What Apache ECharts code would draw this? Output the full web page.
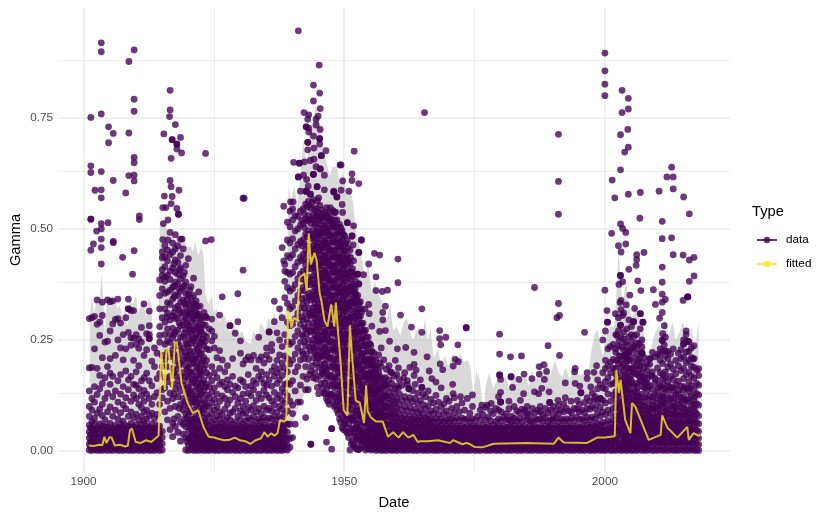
<!DOCTYPE html>
<html>
<head>
<meta charset="utf-8">
<title>Gamma</title>
<script src="https://cdn.jsdelivr.net/npm/echarts@6/dist/echarts.min.js"></script>
<style>
  html, body { margin: 0; padding: 0; background: #fff; }
  #chart { width: 830px; height: 519px; }
</style>
</head>
<body>
<div id="chart"></div>
<script>
// gamma values below are in thousandths, keyed by date
const pointsIsolated = {
  1901.4:[751,642,627,522,522,452],1903.4:[919,899,759,629,588,570,512,500,477,458,421],1909.7:[903,792,765,661,649,621,608,451],
  1908.7:[877,716,620],1904.8:[730,694],1905.7:[715,609,472,469],1902.2:[587],1908.1:[581],1910.7:[529,521],1904.7:[514],1902.5:[495],1901.9:[466],1907.5:[436],1909.4:[398],
  1916.6:[812,768,609],1916.5:[753],1917.6:[735,487],1915.4:[714],1917.0:[701,701,573],1918.6:[706,477],1917.9:[691,691,680,546],1918.8:[671],1916.8:[659,595,557],1923.4:[670,473,303],
  1918.3:[587],1915.5:[574],1915.2:[548,476],1915.8:[548],1918.2:[533,533],1916.2:[520,475],1915.3:[512],1918.9:[477],1924.5:[476],1930.8:[569],1941.2:[946,617,617],
  1945.2:[869],1944.1:[824,788,709,623,623,623],1945.3:[806,703,703,691],1945.4:[771,724,635,635],1942.3:[762],1943.2:[757,727,718],1945:[754],1943:[747,695,695,678],1944.6:[747,734],1942.7:[730,730,585,585,585],
  1944.2:[682,657],1946.5:[676],1945.6:[665,665],1940.3:[650],1941.4:[648,648],1942.4:[651],1943.5:[654,578,578],1949.2:[644],1946.2:[621,588],1942.2:[621],1942.8:[611],1944.8:[595,595],1948:[585,583,583],1941.6:[585],1948.6:[572,572],1939.7:[561],1940.2:[561],1938.4:[551,428],
  1951.9:[675],1949.4:[644,587],1951.5:[624,609,484,484],1952.8:[602,447,447,376,376],1950.9:[585],1949.7:[608,537],1949.6:[555],1951.8:[507,428],1950.6:[514,514],1953.3:[475,475],1951.7:[464],1955.8:[445],1956.8:[441,269],1960.3:[432,379],1954.7:[421,330],1956.1:[392,361],1953.7:[397],1952.6:[398,398],1957.3:[359],1958.3:[362],1952.1:[354,354,354],1957.9:[326,271,165],1954:[320],1957.4:[312,295],1954.8:[309],1964.9:[320,267,143,143],1960.8:[306],1955.3:[281],1962.9:[279],1968.3:[271,253],1973.4:[278,277],1969.5:[256],1968.5:[239],1971.8:[239],1958.7:[247],1960.2:[230],1961.8:[233],1963.4:[222,195,170],1965.9:[212],1971.3:[206],1971.9:[201],1970.9:[191,129],1968.4:[196],1959.8:[204],1960.4:[187,142],1963.8:[182],1966.3:[180],1968.9:[183],1961.4:[164],1966.8:[163],1970.8:[150],1962.4:[140,140],1972.3:[122],1965.4:[762],1930.6:[569],
  1986.5:[368,133],1979.8:[263,218,171,171],1991.1:[713,607,533,332],1991.3:[305,215],1990.8:[300],1989.1:[237],1996.1:[267,109],1981.9:[212],1984:[214],1987.4:[190,173],1988.3:[194],1994.3:[186,152],1994.2:[178],1988.8:[179],1984.5:[173],1980:[161,132,110,110,110],1982:[167,167],1983.5:[161],1986:[163],1988.4:[161],1996.6:[176,163],1997.9:[177],1998.4:[192],1992.4:[153,120],1982.3:[143],1987.9:[141],1995.2:[146],1997.3:[144],1984.4:[129],1987.3:[129],1989.3:[133],1995.4:[131,131],1983.8:[114],1989.4:[109,109],1991:[114],1993.5:[112],1994.7:[114],1998:[116],1999.1:[118,118],1976.4:[103],1977.4:[103],1978.2:[107],
  2000:[896,856,826,800,362],2003.3:[812,762],2004.5:[794,770,684,578],2004.4:[724],2003:[712,633,511,395,395,283,283],2003.8:[673],2001.4:[610],2012.8:[639,480],2011.9:[617],2013.1:[617,590,442],2010.4:[585],2006.8:[582,309,309,275],2001.9:[570],2015.1:[572,241,241],2016.2:[534,430,382],2006.7:[524],2011:[517,478,414,380,353,335,312,249,249],2003.4:[501,381,305],2004:[492,466],2001.3:[490],2002.6:[462],2003.1:[448],2007.5:[447],2015:[441,339],2006.1:[442,431,243],2006:[418],2017.1:[436,394,237],2004.6:[409],2002.7:[375],2006.3:[383],2006.9:[361],2009.3:[363],2004.8:[351],2011.6:[341],2009.7:[330],2015.9:[347,347,347],2002.9:[334],2004.1:[329],2005.7:[321],2000.4:[316],2002:[309,230],2010.5:[299,217],2000.5:[290,290],2005.5:[291,291],2007.3:[290,290],2011.4:[282,239],2000.1:[270,204],2015.6:[270],2002.3:[260],1999.6:[250],2007.1:[250,220,220,220],2015.8:[247,247],2001:[235],2005:[226],2008.7:[208],2004.3:[204,204,204,204],2016.9:[207],2018:[185]
};
const pointsEarly = {
  1901.1:[2,15,29,43,58,78,100,135,187,298],1901.6:[1,10,22,36,50,66,92,118,188,300],1902.1:[3,17,31,44,60,73,110,145,230,303],1902.6:[1,12,25,38,52,85,127,186,285,340],1903.1:[2,16,30,47,61,94,140,170,260,290],1903.6:[1,9,23,37,56,80,105,152,210,335,305],
  1904.1:[3,14,28,42,55,70,118,165,245],1904.6:[1,11,25,40,54,88,130,190,247,340],1905.1:[2,16,31,45,62,99,150,175,208,270,336],1905.6:[1,10,24,37,52,78,122,168,286,338],1906.1:[3,15,28,44,58,92,135,215,296],1906.6:[1,12,26,39,53,72,110,158,250,298,342],
  1907.1:[2,17,31,46,60,86,128,172,232,288],1907.6:[1,9,22,35,50,67,104,145,205,262],1908.1:[3,14,29,43,57,95,120,180,230,300],1908.6:[1,11,24,38,55,78,138,160,267,342,320,320],1909.1:[2,16,30,45,62,88,112,168,238,255,316],1909.6:[1,10,23,40,54,75,126,150,204,316,254],
  1910.1:[3,15,27,41,59,83,118,148,178,240,262],1910.6:[1,12,26,37,52,70,105,140,192,231,252],1911.1:[2,17,31,44,60,78,98,125,158,245,278],1911.6:[1,9,22,36,51,66,88,112,136,165,331,215],1912.1:[3,14,28,42,57,72,92,128,175,228,264],1912.6:[1,11,25,38,53,80,118,158,315,282,262,253,253],
  1913.1:[2,16,30,45,61,85,105,147,202],1913.6:[1,10,23,37,52,73,122,190,232],1914.1:[3,15,29,42,58,82,131,163,220],1914.6:[1,11,24,40,56,105,174,245,260,280,385,350,320],1915.1:[2,16,30,44,120,138,190,215,300,365,408,448,435,395],
  1915.6:[88,142,165,205,240,262,290,320,355,382,415,437,462,392],1916.1:[70,112,156,190,222,248,275,302,334,358,395,428,452,310],1916.6:[48,96,130,168,212,244,262,295,330,362,386,405,442,492],1917.1:[32,62,118,150,186,228,255,276,304,342,368,412,448,468],1917.6:[55,100,140,170,202,236,268,298,322,352,380,402,430,455],
  1918.1:[42,78,122,158,184,214,245,272,300,326,350,376,398,425,462],1918.6:[22,65,105,135,168,198,226,256,282,310,335,360,388,412,440],1919.1:[38,60,92,118,148,176,204,232,258,284,312,340,368,394,455],1919.6:[2,30,55,84,112,140,168,192,220,246,274,300,326,355,380,418],
  1920.1:[1,14,28,44,62,80,100,122,144,166,188,210,234,258,282,306,330,352,433],1920.6:[3,18,34,50,68,88,108,130,152,174,196,218,242,266,290,318,345,370],1921.1:[1,12,26,40,56,72,92,112,134,156,178,200,224,248,272,298,320,350,389],1921.6:[2,16,32,48,66,84,104,124,146,168,190,214,238,262,288,312,338],
  1922.1:[1,14,28,44,60,78,96,118,140,162,186,208,232,256,282,308,358],1922.6:[3,18,34,50,66,86,106,128,150,172,196,220,244,270,296],1923.1:[1,12,26,40,56,74,94,114,136,160,184,210,236,262,312],1923.6:[2,16,30,46,62,82,102,126,150,176,204,230,258,300],
  1924.1:[1,14,28,42,58,76,98,120,144,170,228,275],1924.6:[3,17,32,48,64,84,108,132,158,190,248,297,270],1925.1:[1,12,26,40,54,70,92,116,142,176,232,258],1925.6:[2,15,30,44,60,78,100,128,165,210],1926.1:[1,13,27,41,56,72,88,112,150,186,226,306],1926.6:[3,17,32,46,62,82,124,155,205,347],
  1927.1:[1,12,25,39,53,68,94,118,145,178],1927.6:[2,15,29,43,58,75,105,138,160,192],1928.1:[1,13,26,40,55,70,85,115,150,282,282],1928.6:[3,17,31,45,60,88,132,168,208],1929.1:[1,12,25,38,52,66,96,122,146,265],1929.6:[2,15,29,43,57,78,108,142,291,354],
  1930.1:[1,13,27,41,55,70,90,118,160,220,248],1930.6:[3,17,31,44,60,84,100,128,156,196,407],1931.1:[1,12,25,39,53,68,86,112,145,205],1931.6:[2,15,29,42,56,74,98,130,172,212],1932.1:[1,13,26,40,54,70,92,124,146,205],1932.6:[3,17,30,44,58,78,102,138,158,215],
  1933.1:[1,12,25,38,52,66,88,114,152,186],1933.6:[2,15,28,42,56,72,95,128,168,205,256],1934.1:[1,13,26,40,54,68,84,118,162,212,178],1934.6:[3,17,31,44,58,76,100,136,152,198],1935.1:[1,12,25,39,53,70,92,126,148,172,216,232],1935.6:[2,15,29,43,57,74,96,120,160,206,268,268],
  1936.1:[1,13,27,41,55,72,90,112,146,180,226,240],1936.6:[3,17,31,45,60,78,104,132,168,190,291,337],1937.1:[1,12,26,40,54,70,88,118,152,176,204,266],1937.6:[2,15,30,44,58,76,100,126,160,185,216,250,320],1938.1:[1,13,27,41,56,73,94,114,140,170,198,235,300,458],
  1938.6:[3,16,30,45,62,84,108,132,150,186,214,262,345,382,405,420],1939.1:[2,14,28,42,60,90,124,152,178,208,246,290,332,368,402,440,475,515],
};
const pointsWar = {
  1939.6:[8,28,60,112,150,196,240,282,320,360,398,435,468,505,540],1940.1:[30,84,103,158,205,245,285,325,365,402,442,478,520,545],1940.6:[60,135,178,218,258,298,338,375,415,455,495,530],
  1941.1:[110,190,232,270,310,350,388,425,465,500,528],1941.6:[110,148,205,245,285,322,360,398,436,472,508,540],1942.1:[168,218,258,295,332,368,405,442,476,512,545],1942.6:[75,138,190,236,274,310,345,382,418,452,488,522,556],
  1943.1:[138,206,250,288,322,356,392,428,462,496,530,562,596],1943.6:[15,15,180,226,268,304,340,374,410,444,478,512,546],1944.1:[165,210,250,288,322,358,394,428,462,498,532,566],1944.6:[162,198,236,272,308,342,376,410,444,478,512,546,640],
  1945.1:[129,188,226,262,298,332,366,400,434,468,502,536,570],1945.6:[152,194,232,268,304,338,372,406,440,474,508,542],1946.1:[130,176,216,252,288,322,356,390,424,458,492,526],1946.6:[20,118,162,204,240,276,310,344,378,412,446,480,514,548],
  1947.1:[105,148,190,228,264,298,332,366,400,434,468,502,536],1947.6:[4,50,50,128,170,210,248,284,318,352,386,420,454,488,522],1948.1:[100,142,184,224,262,298,332,366,400,434,468,502,536],1948.6:[92,128,168,208,246,282,318,352,386,420,454,488,520],
  1949.1:[72,116,156,196,234,270,306,340,374,408,442,476,510],1949.6:[52,98,138,180,220,256,292,326,360,394,428,462,496],1950.1:[60,60,84,126,168,206,244,280,314,348,382,416,450,484],1950.6:[40,76,116,156,196,234,270,304,338,372,406,440,474],
  1951.1:[2,50,94,134,174,212,248,284,318,352,386,420,452],1951.6:[22,50,84,122,162,200,238,274,308,342,376,410],1952.1:[8,33,70,110,150,188,226,262,298,332,366,398],1952.6:[3,33,62,100,138,176,214,250,286,320,350],
  1953.1:[7,28,60,92,128,164,200,236,270,304,336],1953.6:[23,23,48,82,116,150,186,220,254,288],1954.1:[2,20,42,72,106,140,174,208,240,272],1954.6:[5,30,60,94,128,160,192,224,256],
  1955.1:[2,16,36,60,88,118,148,178,208,238],1955.6:[4,20,40,66,94,122,150,178,206],1956.1:[1,14,30,48,70,96,122,150,176,204],1956.6:[3,18,36,54,76,100,126,152,178,216],
  1957.1:[1,13,28,44,62,82,104,128,158,190,232],1957.6:[2,16,32,48,68,90,112,138,162,205],1958.1:[1,12,27,42,60,80,100,124,148,184],1958.6:[3,17,33,50,68,86,108,132,160,192],1959.1:[1,13,28,44,62,80,100,122,152,176],1959.6:[2,16,32,48,66,84,106,130,168],
  1960.1:[1,12,27,42,58,76,96,118,146,172],1960.6:[3,17,32,48,64,82,104,128,160],1961.1:[1,13,27,42,58,74,92,114,148],1961.6:[2,16,31,46,62,80,100,122,176],1962.1:[1,12,26,41,56,72,90,112,150,158],1962.6:[3,17,32,47,62,78,98,120,188],
  1963.1:[1,13,27,42,56,72,88,110,136],1963.6:[2,16,31,46,60,76,94,118,150],1964.1:[1,12,26,40,55,70,86,106,130],1964.6:[3,17,31,45,60,76,92,114,160],1965.1:[1,13,27,41,56,70,84,104,128],1965.6:[2,16,30,44,58,74,96,122],
  1966.1:[1,12,26,40,54,68,82,102,135],1966.6:[3,17,31,44,58,72,90,116],1967.1:[1,13,26,40,54,68,84,108],1967.6:[2,16,30,43,57,72,94,125,155],1968.1:[1,12,25,39,53,66,82,110],1968.6:[3,17,30,44,58,72,98,142],
  1969.1:[1,13,26,39,52,66,84,106],1969.6:[2,15,29,42,56,70,90,118],1970.1:[1,12,25,38,52,66,80,112],1970.6:[3,16,30,43,57,72,96],1971.1:[1,13,26,39,53,68,86,120],1971.6:[2,15,29,42,56,74,100],
  1972.1:[1,12,25,38,52,68,88],1972.6:[3,16,29,43,57,74,108],1973.1:[1,13,26,39,53,70,92],1973.6:[2,15,28,42,56,72,118],1974.1:[1,12,25,38,51,66,85],1974.6:[3,16,29,42,56,72,100,126],
};
const pointsWarFill = {
  1917.35:[72,128,176,218,262,311,347,371,421],1918.35:[96,148,193,237,288,318,365,408],1919.35:[72,104,158,214,265,296,332,372,402],1920.35:[21,58,91,136,178,224,272,311,362],1921.35:[37,73,118,163,207,254,305,331],1922.35:[8,49,88,127,175,219,268,299,326],1923.35:[22,67,108,144,193,247,283],
  1941.85:[224,262,301,343,387,428,462,519],1942.35:[208,246,279,322,361,394,431,467,503,534],1942.85:[162,219,264,297,336,374,409,443,482,518,549],1943.35:[172,233,271,309,347,383,417,451,489,521,553],
  1943.85:[192,241,279,314,351,387,419,455,487,523,559],1944.35:[176,222,261,299,331,369,405,437,473,511,543],1944.85:[143,209,248,284,319,353,389,421,459,491,527,563],1945.35:[168,214,247,283,317,349,385,419,451,488,521,553],
  1945.85:[141,181,223,259,293,327,361,397,431,465,499,533],1946.35:[129,187,228,264,299,333,367,401,437,469,503,538],1946.85:[112,172,214,252,286,321,355,389,423,457,491,525],1947.35:[126,168,209,246,281,316,349,383,417,451,485,519,548],
  1947.85:[114,158,198,238,273,307,341,375,409,443,477,511,541],1948.35:[104,147,189,229,266,301,335,369,403,437,471,505,538],1948.85:[84,122,176,216,252,289,323,357,391,425,459,493],1949.35:[64,108,147,187,226,263,299,333,367,401,435,469,503],
  1949.85:[48,89,129,171,211,247,283,317,351,385,419,453,487],1950.35:[44,72,114,149,187,226,262,297,331,365,399,433,467],1950.85:[30,62,106,147,185,222,259,293,327,361,395,429],1951.35:[16,42,72,112,152,192,229,266,301,335,369,403],
  1951.85:[14,41,76,117,155,194,232,268,303,337,371],1952.35:[5,27,54,92,128,166,203,241,276,311,344],1952.85:[3,22,48,81,118,156,191,229,264,298,331],1953.35:[14,38,74,104,142,178,214,249,284,313],
  1953.85:[9,32,64,96,132,168,202,237,268],1954.35:[12,36,68,102,136,170,204,238],1954.85:[7,24,48,78,108,140,172,206,242],1955.35:[9,28,50,76,104,134,164,194,224],1955.85:[6,24,46,72,100,130,158,186],1956.35:[8,26,42,62,84,110,138,166],1956.85:[6,22,40,60,86,112,140,168,198],1957.85:[8,24,42,58,78,98,122,150],1958.85:[5,22,40,58,76,94,116,142,178],1959.85:[8,24,38,54,72,90,112,140]
};
// extra marks where the reference goes solid
const pointsCore = {
  1919.85:[22,72,128,183,206,241,287,313,341],1920.85:[62,119,161,207,252,276,301,333],1921.85:[54,109,152,196,228,276,305,325],1922.35:[23,69,137,181,243,275],1922.85:[38,96,153,204,252,284],
  1944.22:[232,271,307,343,377,413,447,483,521],1944.72:[216,255,291,325,361,395,429,461,495,530],1945.22:[208,245,279,315,351,383,417,451,485,519],1945.72:[174,213,250,286,321,355,389,423,457,491,525],
  1946.22:[153,196,234,270,305,339,373,407,441,475,509],1946.72:[141,183,222,258,293,327,361,395,429,463,497,531],1947.22:[127,169,209,246,281,315,349,383,417,451,485,519],1947.72:[149,190,229,266,301,335,369,403,437,471,505],
  1948.22:[121,163,204,243,280,315,349,383,417,451,485,519],1948.72:[110,148,188,227,264,300,335,369,403,437,471,505],1949.22:[94,136,176,215,252,288,323,357,391,425,459,493],1949.72:[75,118,159,200,238,274,309,343,377,411,445,479],
  1950.22:[105,147,187,225,262,297,331,365,399,433,467],1950.72:[96,136,176,215,252,287,321,355,389,423,457],1951.22:[72,114,154,193,230,266,301,335,369,403,436],1951.72:[67,103,142,181,219,256,291,325,359,393],
  1952.22:[52,90,130,169,207,244,280,315,349,382],1952.72:[44,81,119,157,195,232,268,303,335],1953.22:[44,76,110,146,182,218,253,287,320],1953.72:[35,65,99,133,168,203,237,271],1954.22:[31,57,89,123,157,191,224,256],1954.72:[18,45,77,111,144,176,208,240],
  1955.22:[26,48,74,103,133,163,193,223],1955.72:[12,30,53,80,108,136,164,192,220],1956.22:[22,39,59,83,109,136,163,190],1956.72:[10,27,45,65,88,113,139,165],1957.22:[20,36,53,72,93,116,143],1957.72:[9,24,40,58,79,101,125,150],
  2002.22:[21,54,71,104,125,158,204],2002.72:[10,44,80,98,137,176,214,248],2003.22:[7,37,66,86,108,149,189,234],2003.72:[25,58,76,112,136,166,214],2004.22:[19,35,70,86,128,151,188,226],2004.72:[10,41,58,91,110,136,163,204],2005.22:[22,38,72,96,120,152,185,232],2005.72:[9,40,56,74,106,131,175],2006.22:[20,36,68,86,123,143,172,206],2006.72:[11,41,58,77,95,113,157,191],2007.22:[21,37,53,70,101,145,168],2007.72:[9,39,56,74,93,121,155],
  2008.22:[20,35,50,66,83,105,144,164],2009.22:[22,37,52,67,85,103,121],2010.22:[20,35,50,67,95,117,142],2011.22:[22,37,53,70,87,107,122,141,163],2012.22:[20,36,50,66,85,114,146],2013.22:[22,37,53,68,84,101,118,142],2014.22:[20,35,51,66,81,105,137],2015.22:[22,37,53,70,87,104,115,145],2016.22:[20,35,51,68,85,111,141],2017.22:[22,38,54,71,89,105,122]
};
const pointsBase = {
  1901.35:[8,21,36,52],1902.35:[7,20,35,49],1903.35:[9,22,34,50],1904.35:[6,21,37,48],1905.35:[8,23,35,51],1906.35:[7,19,33,49],1907.35:[9,22,37,53],1908.35:[6,20,34,48],1909.35:[8,23,36,50],1910.35:[7,21,35,49],1911.35:[9,19,33,47],1912.35:[6,22,36,52],1913.35:[8,20,34,50],1914.35:[7,23,37,49],
  1920.85:[8,21,36,52],1921.85:[7,20,35,49],1922.85:[9,22,34,50],1923.85:[6,21,37,48],1924.85:[8,23,35,51],1925.35:[7,19,33,49],1926.35:[9,22,37,53],1927.35:[6,20,34,48],1928.35:[8,23,36,50],1929.35:[7,21,35,49],1930.35:[9,19,33,47],1931.35:[6,22,36,52],1932.35:[8,20,34,50],1933.35:[7,23,37,49],1934.35:[9,21,35,53],1935.35:[6,19,33,51],1936.35:[8,22,36,48],1937.35:[7,20,34,50],1938.35:[9,23,37,52],
  1960.35:[8,22,37,52,66],1961.35:[7,20,35,50,68],1962.35:[9,23,36,48,64],1963.35:[6,21,34,50,66],1964.35:[8,19,35,53,70],1965.35:[7,22,37,49,62],1966.35:[9,20,33,47,64],1967.35:[6,23,36,51],1968.35:[8,21,34,48],1969.35:[7,19,35,50],1970.35:[9,22,37,52],1971.35:[6,20,33,49],1972.35:[8,23,36,47],1973.35:[7,21,34,50],1974.35:[9,19,35,52],
  1975.35:[8,21,36,52],1976.35:[7,20,35,49],1977.35:[9,22,34,50],1978.35:[6,21,37,48],1979.35:[8,23,35,51],1980.35:[7,19,33,49],1981.35:[9,22,37,53],1982.35:[6,20,34,48],1983.35:[8,23,36,50],1984.35:[7,21,35,49],1985.35:[9,19,33,47],1986.35:[6,22,36,52],1987.35:[8,20,34,50],1988.35:[7,23,37,49],1989.35:[9,21,35,53],1990.35:[6,19,33,51],1991.35:[8,22,36,48],1992.35:[7,20,34,50],1993.35:[9,23,37,52],1994.35:[6,21,35,49],1995.35:[8,19,33,51],1996.35:[7,22,36,48],1997.35:[9,20,34,50],1998.35:[6,23,37,52],1999.35:[8,21,35,49],2000.35:[7,19,33,47],2001.35:[9,22,37,53]
};
const pointsLate = {
  1975.1:[1,13,26,39,52,68],1975.6:[2,15,28,41,56,78],1976.1:[1,12,25,38,51,70,92],1976.6:[3,16,29,42,58,82],1977.1:[1,13,26,39,53,70,98],1977.6:[2,15,28,42,56,76],1978.1:[1,12,25,38,52,68,90],1978.6:[3,16,29,42,58,84],
  1979.1:[1,13,26,39,52,66,96],1979.6:[2,15,28,41,55,72,92,122],1980.1:[1,12,25,38,51,68,88],1980.6:[3,16,29,42,56,76],1981.1:[1,13,26,39,52,70,84],1981.6:[2,15,28,41,55,70,95,112],1982.1:[1,12,25,38,52,66,78],1982.6:[3,16,29,42,58,74,100],
  1983.1:[1,13,26,39,52,68,90],1983.6:[2,15,28,41,55,72,86],1984.1:[1,12,25,38,51,66,94],1984.6:[3,16,29,42,56,78,92],1985.1:[1,13,26,39,52,70,85,100],1985.6:[2,15,28,41,55,68,82],1986.1:[1,12,25,38,51,66,96],1986.6:[3,16,29,42,56,72,86],
  1987.1:[1,13,26,39,52,70,92],1987.6:[2,15,28,41,55,72,88,100],1988.1:[1,12,25,38,51,68,82],1988.6:[3,16,29,42,56,74,96],1989.1:[1,13,26,39,52,66,86],1989.6:[2,15,28,41,55,70,92],1990.1:[1,12,25,38,51,68,78,100],1990.6:[3,16,29,42,56,74,90],
  1991.1:[1,13,26,39,52,66,84,102],1991.6:[2,15,28,41,55,72,92],1992.1:[1,12,25,38,51,68,88,106],1992.6:[3,16,29,42,56,72,96],1993.1:[1,13,26,39,52,68,90],1993.6:[2,15,28,41,55,74,86],1994.1:[1,12,25,38,52,68,96],1994.6:[3,16,29,42,56,76,94],
  1995.1:[1,13,26,39,53,70,88,105],1995.6:[2,15,28,42,56,72,92],1996.1:[1,12,25,38,52,68,86],1996.6:[3,16,29,43,58,76,96,120],1997.1:[1,13,26,40,54,70,94,112],1997.6:[2,15,29,43,58,76,100,130],1998.1:[1,12,26,40,55,72,96,122],1998.6:[3,17,31,46,62,84,110,140,160],
  1999.1:[1,13,27,42,58,78,98,150],1999.6:[2,16,31,46,64,88,114,142,176],2000.1:[1,12,26,42,60,82,108,140,186,156],2000.6:[3,18,34,50,68,92,128,165,192,230],2001.1:[1,14,28,44,62,84,112,150,176,200],2001.6:[2,17,33,50,70,96,126,152,186,206,240],
  2002.1:[1,12,28,45,63,79,97,117,134,172,186,222,262],2002.6:[3,18,35,52,71,88,109,131,143,164,197,236,271,300],2003.1:[1,14,29,44,58,77,93,121,138,159,204,213,256,318,339],2003.6:[2,16,33,49,66,85,102,126,147,181,194,227,252,268,310],2003.9:[6,22,39,57,74,96,118,153,172,216,244],
  2004.2:[1,12,27,43,61,78,94,112,139,163,202,214,238,275],2004.6:[3,18,33,50,66,84,99,121,149,177,186,222,257,295],2005.1:[1,14,30,46,62,81,107,132,158,171,211,246,262,280],2005.6:[2,16,31,48,65,82,95,116,146,184,198,235,258],
  2006.1:[1,12,27,44,60,76,97,113,134,152,193,219,231,262],2006.6:[3,18,33,49,67,86,104,122,168,183,206,242],2007.1:[1,14,29,45,61,78,92,111,128,157,176,199,234],2007.6:[2,16,31,47,64,83,102,142,166,188,210],
  2008.1:[1,12,27,42,58,74,91,118,136,152,181,196],2008.6:[3,18,33,48,63,79,96,124,147,172,195,208],2009.1:[1,14,30,44,59,75,94,112,139,168,178,222],2009.6:[2,16,31,46,62,77,98,127,153,164,212],
  2010.1:[1,12,27,42,58,76,89,108,133,159,187,218],2010.6:[3,18,33,49,64,81,103,121,146,176,204,230],2011.1:[1,14,29,44,61,78,97,116,128,151,172,197,226,264],2011.6:[2,16,31,47,63,80,92,108,139,166,178,213,225,256],
  2012.1:[1,12,28,43,58,74,95,123,137,155,189,208,224],2012.6:[3,18,33,48,65,83,101,118,143,168,196,218],2013.1:[1,14,29,45,60,76,92,109,134,161,184,230],2013.6:[2,16,32,47,62,79,97,126,149,174,204],
  2014.1:[1,12,27,43,58,73,89,113,128,157,192,220],2014.6:[3,18,33,49,64,82,98,119,146,181,208,228],2015.1:[1,14,29,45,61,78,96,122,137,163,186,212,250],2015.6:[2,16,31,46,63,80,91,114,141,172,199,223,262],
  2016.1:[1,12,27,42,59,76,93,117,133,156,178,204,224,246],2016.6:[3,18,33,48,65,83,101,124,147,169,191,210,232],2017.1:[1,14,29,46,62,79,97,113,138,164,188,208],2017.6:[2,16,31,47,64,84,106,129,152,182],2018:[1,14,29,44,61,79,103,126,148,170]
};

const bandDates = [1901.2,1901.6,1902,1902.5,1903,1903.5,1903.8,1904.1,1904.4,1905,1905.5,1906,1906.5,1907,1907.6,1908,1908.4,1908.8,1909.5,1910,1910.5,1911,1911.6,1912,1912.5,1913.1,1913.3,1914,1914.4,1914.6,1915,1915.6,1916,1916.4,1917,1917.6,1918,1918.6,1919.2,1919.8,1920.5,1921,1921.4,1922,1922.6,1923,1923.4,1924,1924.6,1925,1925.6,1926.2,1926.8,1927.5,1928,1929,1929.6,1930.4,1931,1932,1932.6,1933.4,1934,1934.8,1935.5,1936,1936.6,1937.2,1937.8,1938.4,1939,1939.3,1939.8,1940.4,1941,1941.6,1942.2,1942.8,1943.4,1944,1944.6,1945.2,1946,1946.6,1947.2,1947.8,1948.6,1949.2,1949.8,1950.4,1951,1951.7,1952.2,1952.8,1953.4,1954,1954.6,1955.2,1956,1956.6,1957.2,1958,1958.8,1959.4,1960,1960.8,1961.4,1962,1962.6,1963.2,1963.8,1964.4,1965,1965.5,1966,1966.6,1967.2,1968,1968.6,1969.4,1970,1970.8,1971.5,1972.2,1973,1973.6,1974.2,1974.8,1975.3,1976,1976.7,1977.2,1977.8,1978.6,1979.3,1980,1981,1981.6,1982.4,1983,1984,1984.8,1985.4,1986,1986.8,1987.5,1988.2,1989,1989.6,1990.4,1991,1991.8,1992.5,1993.2,1994,1995,1996,1996.8,1997.3,1998,1998.6,1999,1999.6,2000,2000.6,2001.2,2001.8,2002.2,2002.6,2003,2003.4,2004,2004.6,2005.2,2005.8,2006.4,2007,2007.6,2008,2008.6,2009.2,2009.8,2010.4,2011,2011.6,2012.2,2013,2013.6,2014.4,2015,2015.6,2016,2016.6,2017.2,2018];
const bandUpper = [.31,.35,.31,.34,.33,.40,.33,.26,.33,.34,.33,.345,.32,.33,.29,.33,.28,.345,.33,.35,.31,.33,.34,.30,.345,.33,.24,.24,.25,.50,.52,.51,.50,.47,.49,.47,.50,.46,.49,.46,.46,.45,.47,.44,.46,.44,.35,.33,.35,.31,.32,.29,.31,.29,.27,.28,.26,.27,.25,.24,.27,.25,.29,.27,.30,.285,.31,.29,.33,.30,.33,.60,.56,.60,.55,.62,.70,.64,.72,.74,.78,.74,.68,.65,.62,.64,.64,.60,.63,.58,.59,.56,.50,.47,.43,.39,.42,.36,.38,.35,.34,.29,.33,.27,.28,.26,.29,.30,.27,.25,.27,.28,.25,.30,.25,.27,.21,.23,.19,.215,.19,.22,.20,.22,.20,.205,.19,.12,.18,.16,.085,.15,.175,.14,.16,.15,.17,.14,.175,.15,.16,.17,.145,.18,.16,.195,.17,.20,.17,.205,.18,.165,.19,.16,.185,.17,.175,.165,.22,.26,.275,.245,.215,.24,.27,.28,.28,.35,.45,.39,.33,.38,.345,.29,.33,.30,.30,.25,.20,.20,.25,.27,.28,.27,.30,.26,.29,.25,.27,.29,.26,.24,.28,.22,.29];
const bandLower = [0,0,0,0,0,0,0,0,0,0,0,0,0,0,0,0,0,0,0,0,0,0,0,0,0,0,0,0,0,0,.025,.03,.03,.025,.03,.03,.025,.02,.01,0,0,0,0,0,0,0,0,0,0,0,0,0,0,0,0,0,0,0,0,0,0,0,0,0,0,0,0,0,0,0,.02,.047,.055,.07,.09,.11,.125,.135,.14,.145,.15,.155,.13,.11,.105,.09,.08,.07,.05,.03,.01,0,0,0,0,0,0,0,0,0,0,0,0,0,0,0,0,0,0,0,0,0,0,0,0,0,0,0,0,0,0,0,0,0,0,0,0,0,0,0,0,0,0,0,0,0,0,0,0,0,0,0,0,0,0,0,0,0,0,0,0,0,0,0,0,0,0,0,0,0,0,0,0,0,0,0,0,0,0,0,0,0,0,0,0,0,0,0,0,0,0,0,0,0,0,0,0,0,0,0,0,0,0,0,0,0];

const fittedDates = [1901,1902,1903,1903.6,1904,1904.4,1905,1905.4,1906,1907,1908,1908.5,1908.9,1909.3,1910,1911,1912,1913,1914,1914.4,1914.9,1915.6,1915.9,1916.3,1917,1917.5,1917.9,1918.8,1920,1921,1922,1923,1924,1925,1926,1927,1928,1929,1930,1931,1932,1933,1934,1934.7,1935.3,1936,1936.6,1937.2,1937.7,1938.5,1938.9,1939.2,1939.9,1940.3,1941,1941.4,1942.4,1942.8,1943.2,1943.6,1944.3,1944.7,1945.3,1945.6,1946.2,1946.8,1947.5,1948.1,1948.4,1948.8,1949.3,1949.9,1950.6,1951.1,1951.4,1952.2,1953,1953.8,1954.2,1954.5,1955.1,1956.1,1957.4,1958.4,1959.4,1960.4,1961.3,1962.3,1963.3,1964.1,1964.6,1966,1968,1970.3,1970.9,1972.7,1973.4,1974,1975,1976.5,1978.7,1985,1990.2,1991.1,1992.1,1996.6,1998.5,2000,2001.9,2002.2,2002.7,2003,2003.9,2004.9,2005.2,2005.9,2008.4,2010.7,2011,2012,2013.9,2015.8,2016.1,2017,2018.2];
const fittedGamma = [.012,.011,.014,.013,.032,.018,.031,.03,.012,.014,.010,.012,.047,.05,.02,.018,.024,.02,.03,.035,.226,.137,.225,.23,.14,.242,.245,.152,.107,.085,.092,.054,.032,.03,.027,.024,.025,.03,.024,.022,.016,.024,.028,.042,.032,.04,.034,.04,.07,.066,.07,.316,.278,.30,.294,.39,.40,.36,.49,.42,.446,.43,.354,.34,.294,.28,.33,.28,.334,.27,.20,.092,.08,.283,.23,.114,.108,.063,.148,.09,.076,.066,.066,.032,.042,.03,.042,.03,.036,.02,.022,.022,.024,.018,.024,.015,.018,.016,.009,.008,.016,.018,.016,.03,.019,.018,.03,.03,.033,.182,.13,.16,.07,.04,.108,.098,.025,.036,.08,.052,.03,.054,.025,.04,.033];

const xGridMajor = [1900, 1950, 2000];
const xGridMinor = [1925, 1975];
const yGridMajor = [0, 0.25, 0.5, 0.75];
const yGridMinor = [0.125, 0.375, 0.625, 0.875];

const purple = '#440154';
const yellow = '#fde725';
const textFont = 'Liberation Sans';

const dataPoints = [];
[pointsBase, pointsEarly, pointsWar, pointsWarFill, pointsCore, pointsLate, pointsIsolated].forEach((era) => {
  Object.keys(era).forEach((date) => {
    era[date].forEach((v) => dataPoints.push([+date, v / 1000]));
  });
});
const band = bandDates.map((d, i) => [d, bandLower[i] || 0, bandUpper[i]]);
const fitted = fittedDates.map((d, i) => [d, fittedGamma[i]]);

const chart = echarts.init(document.getElementById('chart'));
const gridLine = (values, key, width) => values.map((v) => ({
  [key]: v,
  lineStyle: { color: '#ebebeb', width: width, type: 'solid' }
}));

chart.setOption({
  animation: false,
  textStyle: { fontFamily: textFont },
  title: {
    text: 'Type',
    left: 747,
    top: 199,
    textStyle: { fontFamily: textFont, fontSize: 14.7, fontWeight: 'normal', color: '#000' }
  },
  legend: {
    orient: 'vertical',
    left: 751,
    top: 229,
    itemWidth: 20,
    itemHeight: 8,
    itemGap: 12,
    selectedMode: false,
    textStyle: { fontFamily: textFont, fontSize: 11.73, color: '#000', padding: [0, 0, 0, 4] },
    data: [
      { name: 'data', lineStyle: { color: purple, width: 2, opacity: 0.8 }, itemStyle: { color: purple, opacity: 0.8 } },
      { name: 'fitted', lineStyle: { color: yellow, width: 2, opacity: 0.8 }, itemStyle: { color: yellow, opacity: 0.8 } }
    ]
  },
  grid: { left: 58, right: 100, top: 8, bottom: 47, outerBoundsMode: 'none' },
  xAxis: {
    type: 'value',
    min: 1895.1,
    max: 2024,
    name: 'Date',
    nameLocation: 'middle',
    nameGap: 23,
    nameTextStyle: { fontFamily: textFont, fontSize: 14.7, color: '#000' },
    axisLine: { show: false },
    axisTick: { show: false },
    splitLine: { show: false },
    axisLabel: { customValues: xGridMajor, margin: 4, fontSize: 11.73, color: '#4d4d4d', formatter: (v) => String(v) }
  },
  yAxis: {
    type: 'value',
    min: -0.0475,
    max: 0.9975,
    name: 'Gamma',
    nameLocation: 'middle',
    nameGap: 35,
    nameMoveOverlap: false,
    nameTextStyle: { fontFamily: textFont, fontSize: 14.7, color: '#000' },
    axisLine: { show: false },
    axisTick: { show: false },
    splitLine: { show: false },
    axisLabel: { customValues: yGridMajor, margin: 5, fontSize: 11.73, color: '#4d4d4d', formatter: (v) => v.toFixed(2) }
  },
  series: [
    {
      name: 'grid',
      type: 'line',
      data: [],
      z: 0,
      silent: true,
      markLine: {
        silent: true,
        symbol: 'none',
        z: 0,
        label: { show: false },
        animation: false,
        data: [
          ...gridLine(yGridMinor, 'yAxis', 0.8),
          ...gridLine(xGridMinor, 'xAxis', 0.8),
          ...gridLine(yGridMajor, 'yAxis', 1.6),
          ...gridLine(xGridMajor, 'xAxis', 1.6)
        ]
      }
    },
    {
      name: 'band',
      type: 'custom',
      data: band,
      z: 1,
      silent: true,
      encode: { x: 0, y: [1, 2] },
      renderItem: (params, api) => {
        if (params.dataIndex !== 0) return;
        const top = band.map((row) => api.coord([row[0], row[2]]));
        const bottom = band.map((row) => api.coord([row[0], row[1]])).reverse();
        return {
          type: 'polygon',
          shape: { points: top.concat(bottom) },
          style: { fill: '#b3b3b3', opacity: 0.5 }
        };
      }
    },
    {
      name: 'data',
      type: 'line',
      data: dataPoints,
      z: 3,
      symbol: 'circle',
      symbolSize: 6.8,
      showAllSymbol: true,
      lineStyle: { opacity: 0 },
      itemStyle: { color: purple, opacity: 0.78 },
      silent: true
    },
    {
      name: 'fitted',
      type: 'line',
      data: fitted,
      z: 4,
      symbol: 'none',
      lineStyle: { color: yellow, width: 2, opacity: 0.8 },
      itemStyle: { color: yellow },
      silent: true
    }
  ]
});
</script>
</body>
</html>
